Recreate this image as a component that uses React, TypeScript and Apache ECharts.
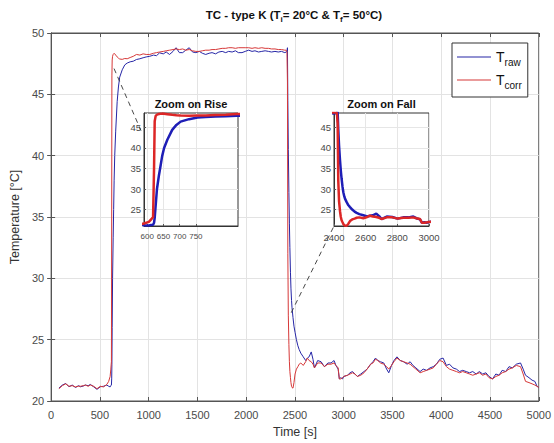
import React, { useEffect, useRef } from 'react';
import * as echarts from 'echarts';

// ---- data (time in s, temperatures in °C) ----
const timeA = [80, 115, 150, 183, 216, 250, 280, 301, 330, 351, 380, 402, 436, 470, 504, 537, 571, 590, 605, 612];
const rawA = [21.05, 21.3, 21.43, 21.16, 21.3, 21.1, 21.25, 21.16, 21.22, 21.3, 21.25, 21.35, 21.16, 20.95, 21.16, 21.2, 21.3, 21.2, 21.15, 21.25];
const corrA = [21.0, 21.25, 21.4, 21.2, 21.25, 21.15, 21.2, 21.2, 21.25, 21.3, 21.2, 21.3, 21.2, 21.0, 21.2, 21.15, 21.35, 21.6, 22.0, 22.6];

const timeB = [618, 621, 623, 626, 630, 636, 641, 646, 652, 662, 677, 690, 703, 729, 755, 780, 810, 842, 875, 910, 943, 975];
const rawB = [21.3, 21.8, 23.0, 26.0, 30.0, 33.3, 35.6, 38.0, 40.0, 42.0, 44.4, 45.6, 46.4, 47.0, 47.4, 47.55, 47.65, 47.7, 47.84, 47.9, 47.98, 48.05];
const corrB = [23.2, 35.0, 46.5, 47.8, 48.1, 48.25, 48.3, 48.35, 48.3, 48.2, 48.05, 47.95, 47.88, 47.85, 47.92, 47.9, 48.0, 48.1, 48.25, 48.2, 48.3, 48.25];

const timeC = [1011, 1050, 1080, 1112, 1150, 1180, 1214, 1250, 1281, 1315, 1349, 1380, 1416, 1450, 1484, 1520, 1550, 1585, 1620, 1650, 1686, 1720, 1754, 1790, 1820, 1856, 1890, 1920, 1957, 1990, 2025, 2060, 2090, 2126, 2160, 2194, 2228, 2260, 2295, 2329, 2362, 2396, 2410];
const rawC = [48.1, 48.2, 48.15, 48.38, 48.3, 48.45, 48.25, 48.5, 48.8, 48.4, 48.4, 48.6, 48.8, 48.45, 48.4, 48.5, 48.35, 48.25, 48.35, 48.4, 48.3, 48.45, 48.5, 48.4, 48.5, 48.45, 48.55, 48.4, 48.4, 48.5, 48.6, 48.5, 48.55, 48.45, 48.5, 48.55, 48.5, 48.45, 48.5, 48.45, 48.5, 48.4, 48.45];
const corrC = [48.25, 48.35, 48.4, 48.45, 48.5, 48.55, 48.6, 48.65, 48.7, 48.65, 48.7, 48.6, 48.65, 48.55, 48.5, 48.5, 48.55, 48.6, 48.6, 48.65, 48.65, 48.7, 48.75, 48.75, 48.8, 48.8, 48.75, 48.8, 48.8, 48.8, 48.8, 48.75, 48.8, 48.75, 48.8, 48.75, 48.75, 48.7, 48.7, 48.65, 48.65, 48.6, 48.6];

const timeD = [2418, 2423, 2427, 2432, 2438, 2443, 2448, 2454, 2459, 2465, 2470, 2480, 2490, 2501, 2515, 2530, 2543, 2560, 2585, 2610, 2627, 2645, 2667, 2685, 2700];
const rawD = [48.5, 48.8, 44.5, 40.5, 37.0, 34.5, 32.5, 30.5, 29.2, 28.2, 27.6, 26.8, 26.1, 25.6, 25.0, 24.5, 24.2, 23.9, 23.6, 23.3, 23.5, 23.6, 24.0, 23.4, 22.7];
const corrD = [48.5, 46.0, 32.0, 27.0, 24.6, 23.2, 22.4, 21.9, 21.5, 21.2, 21.1, 21.05, 21.5, 22.2, 22.6, 22.8, 23.0, 23.1, 22.9, 23.2, 23.5, 23.3, 23.2, 23.0, 22.7];

const timeE = [2733, 2768, 2802, 2838, 2870, 2901, 2920, 2943, 2955, 2970, 2988, 3000, 3039, 3065, 3090, 3115, 3140, 3175, 3208, 3240, 3276, 3300, 3326, 3350, 3377, 3411, 3440, 3462, 3490, 3515, 3546, 3580, 3614, 3650, 3681, 3710, 3740, 3783, 3815, 3850, 3885, 3918, 3950, 3985, 4019, 4053, 4085, 4120, 4155, 4188, 4220, 4256, 4290, 4323, 4358, 4391, 4425, 4458, 4490, 4526, 4560, 4593, 4625, 4661, 4695, 4729, 4770, 4813, 4840, 4864, 4900, 4931, 4960, 4982, 5000];
const rawE = [23.3, 23.2, 22.8, 23.1, 23.1, 23.3, 22.9, 22.6, 21.8, 21.9,
  21.8, 22.0, 22.1, 22.3, 22.4, 22.2, 22.0, 22.2, 22.4, 22.6,
  23.0, 23.2, 23.5, 23.3, 23.2, 23.1, 22.6, 22.3, 22.9, 23.3,
  23.6, 23.3, 23.2, 23.0, 23.2, 22.9, 22.7, 22.4, 22.6, 22.5,
  22.7, 22.8, 23.0, 23.4, 23.5, 22.9, 23.0, 22.7, 22.6, 22.4,
  22.5, 22.4, 22.3, 22.4, 22.2, 22.4, 22.2, 22.3, 22.0, 21.8,
  22.2, 22.1, 22.5, 22.4, 22.8, 22.7, 23.0, 23.1, 22.6, 22.1,
  21.9, 21.7, 21.6, 21.2, 21.1];
const corrE = [23.1, 23.1, 22.8, 23.0, 23.0, 23.1, 22.9, 22.7, 21.8, 21.8,
  21.9, 22.0, 22.1, 22.2, 22.3, 22.2, 22.0, 22.1, 22.3, 22.6,
  23.0, 23.1, 23.4, 23.3, 23.1, 23.0, 22.8, 22.6, 22.9, 23.2,
  23.5, 23.3, 23.2, 23.1, 23.0, 22.8, 22.6, 22.3, 22.4, 22.5,
  22.6, 22.7, 23.0, 23.3, 23.2, 22.8, 22.6, 22.5, 22.4, 22.3,
  22.4, 22.3, 22.2, 22.1, 22.2, 22.3, 22.1, 22.2, 21.9, 21.8,
  22.0, 22.1, 22.3, 22.4, 22.6, 22.7, 22.9, 22.8, 22.2, 21.6,
  21.5, 21.4, 21.3, 21.2, 21.1];

const riseXLabels = [600, 650, 700, 750];
const insetYLabels = [25, 30, 35, 40, 45];

// connector anchors (data coordinates)
const riseLinkFrom = [645, 47.1];
const riseLinkTo = [590, 44.2];
const fallLinkFrom = [2462, 27.2];
const fallLinkTo = [2400, 21];

const FONT = 'Liberation Sans, Arial, Helvetica, sans-serif';
const BLUE = '#2626a6';
const RED = '#d63838';
const IBLUE = '#1e1eb6';
const IRED = '#dc2626';

const time = [...timeA, ...timeB, ...timeC, ...timeD, ...timeE];
const tRaw = [...rawA, ...rawB, ...rawC, ...rawD, ...rawE];
const tCorr = [...corrA, ...corrB, ...corrC, ...corrD, ...corrE];

const plain = (v: number) => String(v);

export default function App() {
  const ref = useRef<HTMLDivElement>(null);
  useEffect(() => {
    const chart = echarts.init(ref.current!, null, { renderer: 'svg', width: 554, height: 443 });
    const rawPairs = time.map((t, i) => [t, tRaw[i]]);
    const corrPairs = time.map((t, i) => [t, tCorr[i]]);

    const gridLine = { show: true, lineStyle: { color: '#e3e3e3', width: 1 } };
    const lbl = { color: '#4a4a4a', fontSize: 11, fontFamily: FONT, formatter: plain };
    const ilbl = { color: '#4a4a4a', fontSize: 9.5, fontFamily: FONT, formatter: plain };
    const axLine = { show: true, lineStyle: { color: '#555', width: 1 } };
    const tick = (len: number) => ({ show: true, inside: true, length: len, lineStyle: { color: '#555' } });

    const option: any = {
      animation: false,
      backgroundColor: '#fff',
      textStyle: { fontFamily: FONT },
      title: [
        {
          text: '{a|TC - type K (T}{s|i}{a|= 20°C & T}{s|f}{a|= 50°C)}',
          left: 294, top: 7, padding: 0, textAlign: 'center',
          textStyle: {
            rich: {
              a: { fontSize: 11.5, fontWeight: 'bold', color: '#111', lineHeight: 16, fontFamily: FONT },
              s: { fontSize: 8, fontWeight: 'bold', color: '#111', lineHeight: 9, verticalAlign: 'bottom', fontFamily: FONT },
            },
          },
        },
        { text: 'Zoom on Rise', left: 191, top: 98, padding: 0, textAlign: 'center', textStyle: { fontSize: 11, fontWeight: 'bold', color: '#111', fontFamily: FONT } },
        { text: 'Zoom on Fall', left: 381.5, top: 98, padding: 0, textAlign: 'center', textStyle: { fontSize: 11, fontWeight: 'bold', color: '#111', fontFamily: FONT } },
      ],
      legend: {
        data: ['T_raw', 'T_corr'],
        orient: 'vertical',
        left: 452, top: 43,
        padding: [7, 6, 7, 5],
        itemGap: 6,
        itemWidth: 34, itemHeight: 1,
        icon: 'rect',
        backgroundColor: '#fff',
        borderColor: '#333', borderWidth: 1, borderRadius: 0,
        formatter: (name: string) => (name === 'T_raw' ? '{t|T}{s|raw}' : '{t|T}{s|corr}'),
        textStyle: {
          rich: {
            t: { fontSize: 14, color: '#111', lineHeight: 20, fontFamily: FONT },
            s: { fontSize: 10, color: '#111', lineHeight: 10, verticalAlign: 'bottom', fontFamily: FONT },
          },
        },
      },
      grid: [
        { left: 47, top: 33, width: 493, height: 370, show: true, borderColor: '#555', borderWidth: 1, backgroundColor: '#fff' },
        { left: 144, top: 113, width: 94, height: 113, show: true, borderColor: '#333', borderWidth: 1, backgroundColor: '#fff', z: 3 },
        { left: 334, top: 113, width: 95, height: 113, show: true, borderColor: '#333', borderWidth: 1, backgroundColor: '#fff', z: 3 },
      ],
      xAxis: [
        {
          type: 'value', gridIndex: 0, min: 0, max: 5000, interval: 500,
          axisLine: axLine, axisTick: tick(4), axisLabel: { ...lbl, margin: 8 }, splitLine: gridLine,
          name: 'Time [s]', nameLocation: 'middle', nameGap: 24,
          nameTextStyle: { fontSize: 12.5, color: '#333', fontFamily: FONT },
        },
        {
          type: 'value', gridIndex: 0, position: 'top', min: 0, max: 5000, interval: 500,
          axisLine: axLine, axisTick: tick(4), axisLabel: { show: false }, splitLine: { show: false },
        },
        {
          type: 'value', gridIndex: 1, min: 590, max: 880, z: 3,
          axisLine: { show: true, lineStyle: { color: '#333' } },
          axisTick: { ...tick(2), customValues: riseXLabels },
          axisLabel: { ...ilbl, fontSize: 8, margin: 6, customValues: riseXLabels },
          splitLine: { show: true, lineStyle: { color: '#e6e6e6' } },
        },
        {
          type: 'value', gridIndex: 2, min: 2400, max: 3000, interval: 200, z: 3,
          axisLine: { show: true, lineStyle: { color: '#333' } },
          axisTick: tick(2),
          axisLabel: { ...ilbl, margin: 6, showMinLabel: true, showMaxLabel: true },
          splitLine: { show: true, lineStyle: { color: '#e6e6e6' } },
        },
      ],
      yAxis: [
        {
          type: 'value', gridIndex: 0, min: 20, max: 50, interval: 5,
          axisLine: axLine, axisTick: tick(4), axisLabel: { ...lbl, margin: 7 }, splitLine: gridLine,
          name: 'Temperature [°C]', nameLocation: 'middle', nameGap: 21,
          nameTextStyle: { fontSize: 12.5, color: '#333', fontFamily: FONT },
        },
        {
          type: 'value', gridIndex: 0, position: 'right', min: 20, max: 50, interval: 5,
          axisLine: axLine, axisTick: tick(4), axisLabel: { show: false }, splitLine: { show: false },
        },
        {
          type: 'value', gridIndex: 1, min: 21, max: 48.5, z: 3,
          axisLine: { show: true, lineStyle: { color: '#333' } },
          axisTick: { ...tick(2), customValues: insetYLabels },
          axisLabel: { ...ilbl, margin: 3, customValues: insetYLabels },
          splitLine: { show: true, lineStyle: { color: '#e6e6e6' } },
        },
        {
          type: 'value', gridIndex: 2, min: 21, max: 48.5, z: 3,
          axisLine: { show: true, lineStyle: { color: '#333' } },
          axisTick: { ...tick(2), customValues: insetYLabels },
          axisLabel: { ...ilbl, margin: 3, customValues: insetYLabels },
          splitLine: { show: true, lineStyle: { color: '#e6e6e6' } },
        },
      ],
      series: [
        { name: 'T_raw', type: 'line', xAxisIndex: 0, yAxisIndex: 0, data: rawPairs, symbol: 'none', showSymbol: false, lineStyle: { color: BLUE, width: 1 }, itemStyle: { color: BLUE }, z: 2 },
        { name: 'T_corr', type: 'line', xAxisIndex: 0, yAxisIndex: 0, data: corrPairs, symbol: 'none', showSymbol: false, lineStyle: { color: RED, width: 1 }, itemStyle: { color: RED }, z: 2 },
        { name: 'rise raw', type: 'line', xAxisIndex: 2, yAxisIndex: 2, data: rawPairs, symbol: 'none', showSymbol: false, lineStyle: { color: IBLUE, width: 2.5 }, z: 5 },
        { name: 'rise corr', type: 'line', xAxisIndex: 2, yAxisIndex: 2, data: corrPairs, symbol: 'none', showSymbol: false, lineStyle: { color: IRED, width: 2.5 }, z: 5 },
        { name: 'fall raw', type: 'line', xAxisIndex: 3, yAxisIndex: 3, data: rawPairs, symbol: 'none', showSymbol: false, lineStyle: { color: IBLUE, width: 2.5 }, z: 5 },
        { name: 'fall corr', type: 'line', xAxisIndex: 3, yAxisIndex: 3, data: corrPairs, symbol: 'none', showSymbol: false, lineStyle: { color: IRED, width: 2.5 }, z: 5 },
      ],
    };
    chart.setOption(option);

    const a1 = chart.convertToPixel({ gridIndex: 0 }, riseLinkFrom) as number[];
    const b1 = chart.convertToPixel({ gridIndex: 1 }, riseLinkTo) as number[];
    const a2 = chart.convertToPixel({ gridIndex: 0 }, fallLinkFrom) as number[];
    const b2 = chart.convertToPixel({ gridIndex: 2 }, fallLinkTo) as number[];
    const dash = { stroke: '#333', lineWidth: 0.9, lineDash: [5, 4] };
    chart.setOption({
      graphic: [
        { type: 'line', z: 10, shape: { x1: a1[0], y1: a1[1], x2: b1[0] - 3, y2: b1[1] }, style: dash },
        { type: 'line', z: 10, shape: { x1: a2[0], y1: a2[1], x2: b2[0], y2: b2[1] }, style: dash },
      ],
    });
    return () => chart.dispose();
  }, []);
  return <div ref={ref} style={{ position: 'fixed', left: 0, top: 0, width: 554, height: 443 }} />;
}
